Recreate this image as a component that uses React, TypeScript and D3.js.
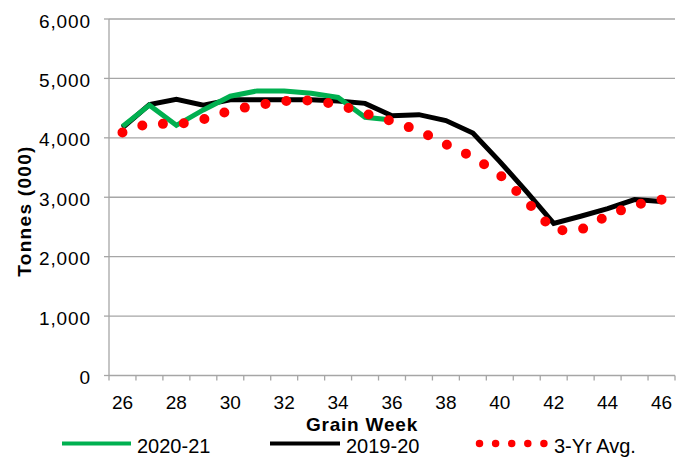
import React from 'react';
import * as d3 from 'd3';

const weeks = [26, 27, 28, 29, 30, 31, 32, 33, 34, 35, 36, 37, 38, 39, 40, 41, 42, 43, 44, 45, 46];
// 2020-21 only runs to week 36
const current = [4190, 4550, 4210, 4470, 4700, 4790, 4790, 4750, 4680, 4345, 4300];
const lastYear = [4170, 4560, 4650, 4550, 4640, 4640, 4640, 4640, 4620, 4580, 4370, 4390, 4290, 4080, 3600, 3090, 2560, 2680, 2810, 2960, 2930];
const avg3yr = [4090, 4250, 4220, 4310, 4460, 4550, 4620, 4630, 4560, 4410, 4280, 4120, 3890, 3680, 3380, 2930, 2440, 2450, 2690, 2870, 2960];
const yTicks = [0, 1000, 2000, 3000, 4000, 5000, 6000];
const xLabels = [26, 28, 30, 32, 34, 36, 38, 40, 42, 44, 46];

const W = 677;
const H = 457;
const left = 109;
const right = 675;
const top = 19;
const bottom = 375.5;
const font = '"Liberation Sans", Arial, sans-serif';
const grid = '#a6a6a6';

const App = () => {
    const x = d3.scaleBand<number>().domain(weeks).range([left, right]).padding(0);
    const y = d3.scaleLinear().domain([0, 6000]).range([bottom, top]);
    const cx = (w: number) => (x(w) as number) + x.bandwidth() / 2;

    const line = d3.line<number>()
        .x((_, i) => cx(weeks[i]))
        .y(d => y(d));

    // boundaries of categories, used for the x tick marks
    const bounds = weeks.map(w => x(w) as number).concat([right]);

    // round-dot pattern: spread the dots so one lands on each end of the line
    const pts = avg3yr.map((v, i) => [cx(weeks[i]), y(v)]);
    let len = 0;
    for (let i = 1; i < pts.length; i++) len += Math.hypot(pts[i][0] - pts[i - 1][0], pts[i][1] - pts[i - 1][1]);
    const gap = len / 28;

    return (
        <svg width={W} height={H} style={{ position: 'absolute', left: 0, top: 0, background: '#fff' }}
            fontFamily={font}>
            {/* grid */}
            {yTicks.filter(t => t > 0).map(t => (
                <line key={t} x1={left} x2={right} y1={y(t)} y2={y(t)} stroke={grid} strokeWidth={1.3} />
            ))}
            {/* axes */}
            <line x1={left} x2={left} y1={top} y2={bottom} stroke={grid} strokeWidth={1.3} />
            <line x1={left} x2={right} y1={bottom} y2={bottom} stroke={grid} strokeWidth={1.3} />
            {yTicks.map(t => (
                <g key={t}>
                    <line x1={left - 5} x2={left} y1={y(t)} y2={y(t)} stroke={grid} strokeWidth={1.3} />
                    <text x={91} y={y(t) + 8.5} textAnchor="end" fontSize={19} letterSpacing={0.9} fill="#000">
                        {d3.format(',')(t)}
                    </text>
                </g>
            ))}
            {bounds.map((b, i) => (
                <line key={i} x1={b} x2={b} y1={bottom} y2={bottom + 5} stroke={grid} strokeWidth={1.3} />
            ))}
            {xLabels.map(w => (
                <text key={w} x={cx(w)} y={409} textAnchor="middle" fontSize={19} fill="#000">{w}</text>
            ))}

            {/* axis titles */}
            <text x={362} y={431} textAnchor="middle" fontSize={19} fontWeight="bold" letterSpacing={0.8}>Grain Week</text>
            <text transform={`translate(31,${211}) rotate(-90)`} textAnchor="middle" fontSize={19}
                fontWeight="bold" letterSpacing={1.3}>Tonnes (000)</text>

            {/* series */}
            <path d={line(lastYear) || ''} fill="none" stroke="#000" strokeWidth={5} strokeLinejoin="miter" />
            <path d={line(current) || ''} fill="none" stroke="#00b050" strokeWidth={5} strokeLinejoin="miter" />
            <path d={line(avg3yr) || ''} fill="none" stroke="#ff0000" strokeWidth={10}
                strokeLinecap="round" strokeDasharray={`0 ${gap}`} />

            {/* legend */}
            <line x1={62} x2={131} y1={443.5} y2={443.5} stroke="#00b050" strokeWidth={4} />
            <text x={137} y={453} fontSize={20}>2020-21</text>
            <line x1={270} x2={340} y1={443.5} y2={443.5} stroke="#000" strokeWidth={4} />
            <text x={346} y={453} fontSize={20}>2019-20</text>
            <line x1={479.5} x2={544} y1={443.5} y2={443.5} stroke="#ff0000" strokeWidth={7.5}
                strokeLinecap="round" strokeDasharray="0 16.1" />
            <text x={554} y={453} fontSize={20}>3-Yr Avg.</text>
        </svg>
    );
};

export default App;
